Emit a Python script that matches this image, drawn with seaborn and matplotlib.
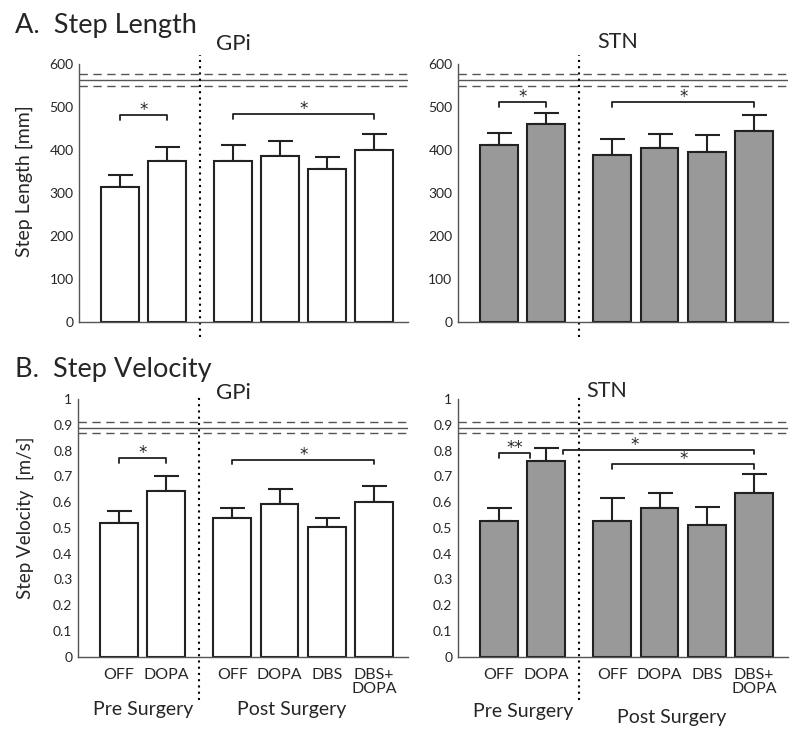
import numpy as np
import pandas as pd
import matplotlib
matplotlib.use("Agg")
import matplotlib.pyplot as plt
import matplotlib.transforms as mtransforms
import seaborn as sns

sns.set_style("white")
plt.rcParams["font.family"] = ["Lato", "DejaVu Sans"]

# ---- data ----
conditions = ["OFF", "DOPA", "OFF", "DOPA", "DBS", "DBS+\nDOPA"]
groups = ["Pre", "Pre", "Post", "Post", "Post", "Post"]

gpi_len = [313, 374, 374, 385, 355, 399]
gpi_len_err = [28, 34, 37, 36, 29, 39]
stn_len = [412, 461, 388, 405, 395, 443]
stn_len_err = [27, 25, 37, 33, 39, 39]

gpi_vel = [0.520, 0.645, 0.537, 0.594, 0.502, 0.602]
gpi_vel_err = [0.047, 0.057, 0.042, 0.057, 0.036, 0.060]
stn_vel = [0.527, 0.760, 0.526, 0.578, 0.510, 0.637]
stn_vel_err = [0.049, 0.052, 0.091, 0.056, 0.073, 0.073]

# healthy control reference (mean, band)
ref_len = (563, 14)
ref_vel = (0.89, 0.02)

# significance brackets: (from bar, to bar, height, label[, label x in bars])
sig_gpi_len = [(0, 1, 481, "*"), (2, 5, 483, "*")]
sig_stn_len = [(0, 1, 511, "*"), (2, 5, 511, "*")]
sig_gpi_vel = [(0, 1, 0.772, "*"), (2, 5, 0.765, "*")]
sig_stn_vel = [(0, 0.66, 0.79, "**"), (1.36, 5, 0.804, "*", 2.87),
               (2, 5, 0.747, "*")]

# bar positions: gap between pre and post surgery groups
gap = 0.4
xpos = np.array([i + (gap if g == "Post" else 0) for i, g in enumerate(groups)])
split_x = (xpos[1] + xpos[2]) / 2


def xval(b):
    # integer -> bar index, fraction -> raw offset from bar 0
    if float(b).is_integer():
        return xpos[int(b)]
    return b


def panel(ax, vals, errs, ref, sig, color, ymax, yticks, yticklabels, tick_h,
          show_x=False, group_y=(-0.228, -0.228)):
    df = pd.DataFrame({"x": xpos, "y": vals})
    sns.barplot(data=df, x="x", y="y", native_scale=True, color=color,
                saturation=1, edgecolor="#222222", linewidth=1.5,
                errorbar=None, width=0.8, ax=ax, zorder=2)
    ax.errorbar(xpos, vals, yerr=[np.zeros(len(errs)), errs], fmt="none",
                ecolor="#222222", elinewidth=1.5, capsize=9, capthick=1.5,
                zorder=1)
    ax.set_xlim(-0.87, 6.12)
    ax.set_ylim(0, ymax)
    ax.set_yticks(yticks)
    ax.set_yticklabels(yticklabels)
    ax.tick_params(axis="y", direction="in", length=3, width=1,
                   color="#555555", labelsize=10, pad=4)
    # reference band
    m, s = ref
    ax.axhline(m, color="#555555", lw=1, zorder=0)
    ax.axhline(m + s, color="#555555", lw=1, ls=(0, (6, 4)), zorder=0)
    ax.axhline(m - s, color="#555555", lw=1, ls=(0, (6, 4)), zorder=0)
    # pre/post separator
    trans = mtransforms.blended_transform_factory(ax.transData, ax.transAxes)
    y0, y1 = (-0.17, 1.01) if show_x else (-0.06, 1.035)
    ax.plot([split_x, split_x], [y0, y1], transform=trans, color="black",
            lw=1.5, ls=(0, (1, 2)), clip_on=False)
    # significance brackets
    for item in sig:
        a, b, h, lab = item[:4]
        x1, x2 = xval(a), xval(b)
        lx = item[4] if len(item) > 4 else (x1 + x2) / 2
        ax.plot([x1, x1, x2, x2], [h - tick_h, h, h, h - tick_h],
                color="#222222", lw=1.3)
        ax.text(lx, h, lab, ha="center", va="baseline", fontsize=12,
                family="DejaVu Sans")
    for side in ["top", "right"]:
        ax.spines[side].set_visible(False)
    for side in ["left", "bottom"]:
        ax.spines[side].set_color("#555555")
        ax.spines[side].set_linewidth(1)
    ax.set_xlabel("")
    ax.set_ylabel("")
    ax.set_xticks(xpos)
    if show_x:
        ax.set_xticklabels(conditions, fontsize=11.5, linespacing=1.0, va="top")
        ax.tick_params(axis="x", length=0, pad=8)
        ax.text(0.5, group_y[0], "Pre Surgery", transform=trans, ha="center",
                va="baseline", fontsize=14)
        ax.text(3.65, group_y[1], "Post Surgery", transform=trans, ha="center",
                va="baseline", fontsize=14)
    else:
        ax.set_xticklabels([])
        ax.tick_params(axis="x", length=0)


fig = plt.figure(figsize=(8, 7.37), dpi=100)
ax1 = fig.add_axes([0.0988, 0.5631, 0.4113, 0.3501])
ax2 = fig.add_axes([0.5725, 0.5631, 0.4125, 0.3501])
ax3 = fig.add_axes([0.0975, 0.1090, 0.4125, 0.3493])
ax4 = fig.add_axes([0.5725, 0.1090, 0.4125, 0.3493])

len_ticks = [0, 100, 200, 300, 400, 500, 600]
vel_ticks = [round(v * 0.1, 1) for v in range(11)]
vel_labels = ["0"] + [f"{v:.1f}" for v in vel_ticks[1:-1]] + ["1"]

panel(ax1, gpi_len, gpi_len_err, ref_len, sig_gpi_len, "white", 600,
      len_ticks, [str(t) for t in len_ticks], 11)
panel(ax2, stn_len, stn_len_err, ref_len, sig_stn_len, "#999999", 600,
      len_ticks, [str(t) for t in len_ticks], 11)
panel(ax3, gpi_vel, gpi_vel_err, ref_vel, sig_gpi_vel, "white", 1,
      vel_ticks, vel_labels, 0.018, show_x=True)
panel(ax4, stn_vel, stn_vel_err, ref_vel, sig_stn_vel, "#999999", 1,
      vel_ticks, vel_labels, 0.018, show_x=True, group_y=(-0.236, -0.256))

ax1.set_ylabel("Step Length [mm]", fontsize=14)
ax1.yaxis.set_label_coords(-0.14, 0.547)
ax3.set_ylabel("Step Velocity  [m/s]", fontsize=13.5)
ax3.yaxis.set_label_coords(-0.133, 0.54)

fig.text(0.019, 1 - 33 / 737, "A.  Step Length", fontsize=19.5, va="baseline")
fig.text(0.019, 1 - 377 / 737, "B.  Step Velocity", fontsize=19.5, va="baseline")
fig.text(233 / 800, 1 - 50 / 737, "GPi", fontsize=16, ha="center", va="baseline")
fig.text(618 / 800, 1 - 48 / 737, "STN", fontsize=15.5, ha="center", va="baseline")
fig.text(233 / 800, 1 - 399 / 737, "GPi", fontsize=16, ha="center", va="baseline")
fig.text(607 / 800, 1 - 397 / 737, "STN", fontsize=15.5, ha="center", va="baseline")

fig.savefig("out.png", dpi=100)
